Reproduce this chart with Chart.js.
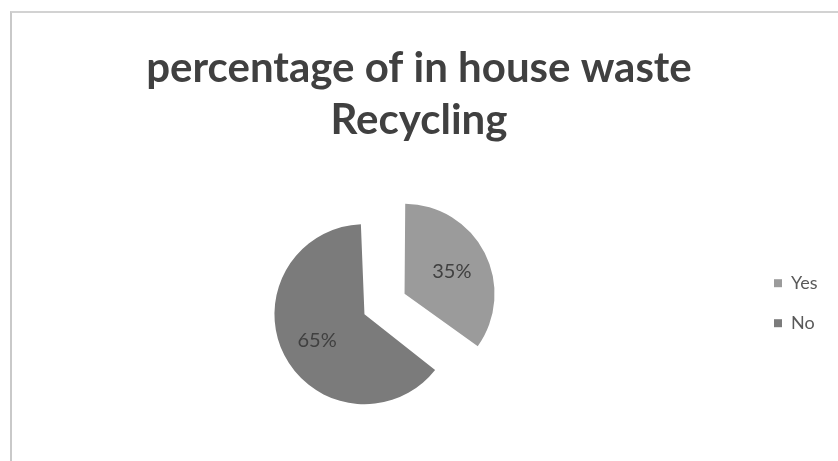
<!DOCTYPE html>
<html>
<head>
<meta charset="utf-8">
<script src="https://cdn.jsdelivr.net/npm/chart.js@4.4.0/dist/chart.umd.min.js"></script>
<style>
  body { margin: 0; background: #fff; }
  #wrap { position: relative; width: 838px; height: 461px; }
  #frame { position: absolute; left: 10px; top: 11px; right: 0; bottom: 0;
           border-left: 2px solid #c9c9c9; border-top: 2px solid #d2d2d2; }
  canvas { position: absolute; left: 0; top: 0; }
</style>
</head>
<body>
<div id="wrap">
  <div id="frame"></div>
  <canvas id="pieChart" width="838" height="461"></canvas>
</div>
<script>
// datos del grafico
var categorias = ["Yes", "No"];
var porcentajes = [35, 65];
var colores = ["#9b9b9b", "#7b7b7b"];

// radio del pastel y separacion de las porciones
var radioPie = 90;
var separacion = 90;

// corrige el radio para que las dos porciones separadas queden iguales
var radioPlugin = {
    id: 'radioIgual',
    afterDatasetUpdate: function (chart) {
        var meta = chart.getDatasetMeta(0);
        meta.data.forEach(function (arc) {
            var circ = arc.endAngle - arc.startAngle;
            var fix = 1 - Math.sin(Math.min(Math.PI, circ));
            arc.outerRadius = radioPie - (separacion / 4) * fix;
        });
    }
};

// etiquetas dentro de las porciones
var etiquetasPlugin = {
    id: 'etiquetas',
    afterDatasetsDraw: function (chart) {
        var ctx = chart.ctx;
        var meta = chart.getDatasetMeta(0);
        ctx.save();
        ctx.font = "20px Lato";
        ctx.fillStyle = "#404040";
        ctx.textAlign = "center";
        ctx.textBaseline = "middle";
        meta.data.forEach(function (arc, i) {
            var mid = (arc.startAngle + arc.endAngle) / 2;
            var d = radioPie * 0.84;
            ctx.fillText(porcentajes[i] + "%", arc.x + Math.cos(mid) * d, arc.y + Math.sin(mid) * d + 2);
        });
        ctx.restore();
    }
};

var ctx = document.getElementById("pieChart").getContext("2d");
new Chart(ctx, {
    type: 'pie',
    data: {
        labels: categorias,
        datasets: [{
            data: porcentajes,
            backgroundColor: colores,
            borderWidth: 0,
            offset: separacion,
            hoverOffset: 0,
            radius: radioPie
        }]
    },
    options: {
        responsive: false,
        animation: false,
        layout: { padding: { left: 17, right: 17, top: 42, bottom: 4 } },
        plugins: {
            title: {
                display: true,
                text: ["percentage of in house waste", "Recycling"],
                color: "#404040",
                font: { family: "Lato", size: 42, weight: "bold", lineHeight: 1.25 },
                padding: { top: 0, bottom: 4 }
            },
            legend: {
                position: 'right',
                maxWidth: 69,
                title: { display: true, text: " ", padding: { top: 93, bottom: 0 } },
                labels: {
                    boxWidth: 8,
                    boxHeight: 8,
                    color: "#595959",
                    font: { family: "Lato", size: 18 },
                    padding: 22
                }
            },
            tooltip: { enabled: false }
        }
    },
    plugins: [radioPlugin, etiquetasPlugin]
});
</script>
</body>
</html>
